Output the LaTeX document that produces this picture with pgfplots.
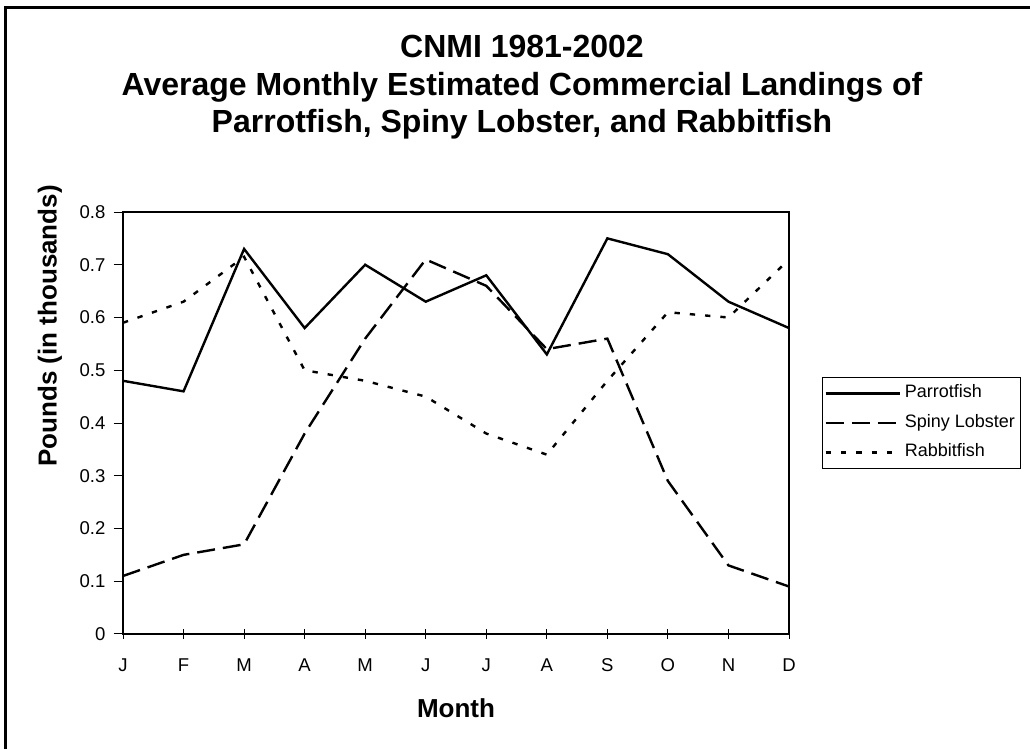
\documentclass[border=0pt]{standalone}
\usepackage{fontspec}
\setmainfont{Liberation Sans}
\usepackage{pgfplots}
\pgfplotsset{compat=1.18}
\begin{document}
\begin{tikzpicture}[x=0.75pt,y=0.75pt]
\begin{axis}[
  at={(92.25pt,86.25pt)}, anchor=south west,
  width=499.5pt, height=316.5pt, scale only axis,
  xmin=0, xmax=11, ymin=0, ymax=0.8,
  xtick={0,1,2,3,4,5,6,7,8,9,10,11},
  xticklabels={J,F,M,A,M,J,J,A,S,O,N,D},
  ytick={0,0.1,0.2,0.3,0.4,0.5,0.6,0.7,0.8},
  yticklabels={0,0.1,0.2,0.3,0.4,0.5,0.6,0.7,0.8},
  xtick pos=left, ytick pos=left,
  axis line style={line width=1.5pt},
  tick align=outside, major tick length=7pt,
  tick style={black, line width=0.75pt},
  xtick style={yshift=3.5pt},
  xticklabel style={font=\fontsize{13.9}{16}\selectfont, anchor=base, inner sep=0pt, yshift=-21pt},
  yticklabel style={font=\fontsize{13.9}{16}\selectfont, anchor=east, inner sep=0pt, xshift=-6pt},
  legend style={at={(1.0495,0.609)}, anchor=north west, draw=black, line width=0.75pt,
    font=\fontsize{13.5}{16}\selectfont, inner xsep=1.5pt, inner ysep=5.5pt, row sep=9.5pt,
    nodes={inner xsep=3pt, inner ysep=0pt, text height=9.7pt, text depth=3pt}},
  legend cell align=left,
  legend image code/.code={\draw[#1] (0pt,0pt) -- (55.5pt,0pt);},
]
\addplot[black, line width=1.8pt] coordinates {
(0,0.48) (1,0.46) (2,0.73) (3,0.58) (4,0.70) (5,0.63) (6,0.68) (7,0.53) (8,0.75) (9,0.72) (10,0.63) (11,0.58)};
\addlegendentry{Parrotfish}
\addplot[black, line width=1.8pt, dash pattern=on 13.5pt off 6pt] coordinates {
(0,0.11) (1,0.15) (2,0.17) (3,0.38) (4,0.56) (5,0.71) (6,0.66) (7,0.54) (8,0.56) (9,0.29) (10,0.13) (11,0.09)};
\addlegendentry{Spiny Lobster}
\addplot[black, line width=1.8pt, dash pattern=on 4pt off 7.5pt] coordinates {
(0,0.59) (1,0.63) (2,0.715) (3,0.50) (4,0.48) (5,0.45) (6,0.38) (7,0.34) (8,0.48) (9,0.61) (10,0.60) (11,0.71)};
\addlegendentry{Rabbitfish}
\end{axis}
\node[font=\fontsize{24}{28}\selectfont\bfseries, anchor=base] at (522,691) {CNMI 1981-2002};
\node[font=\fontsize{24}{28}\selectfont\bfseries, anchor=base] at (522,653) {Average Monthly Estimated Commercial Landings of};
\node[font=\fontsize{24}{28}\selectfont\bfseries, anchor=base] at (522,616) {Parrotfish, Spiny Lobster, and Rabbitfish};
\node[font=\fontsize{19.5}{22}\selectfont\bfseries, anchor=base] at (456,32) {Month};
\node[font=\fontsize{19.5}{22}\selectfont\bfseries, rotate=90, anchor=center] at (50,423) {Pounds (in thousands)};
\draw[line width=2pt] (5.5,0) -- (5.5,741.5) -- (1030,741.5);
\pgfresetboundingbox
\useasboundingbox (0,0) rectangle (1030,749);
\end{tikzpicture}
\end{document}
